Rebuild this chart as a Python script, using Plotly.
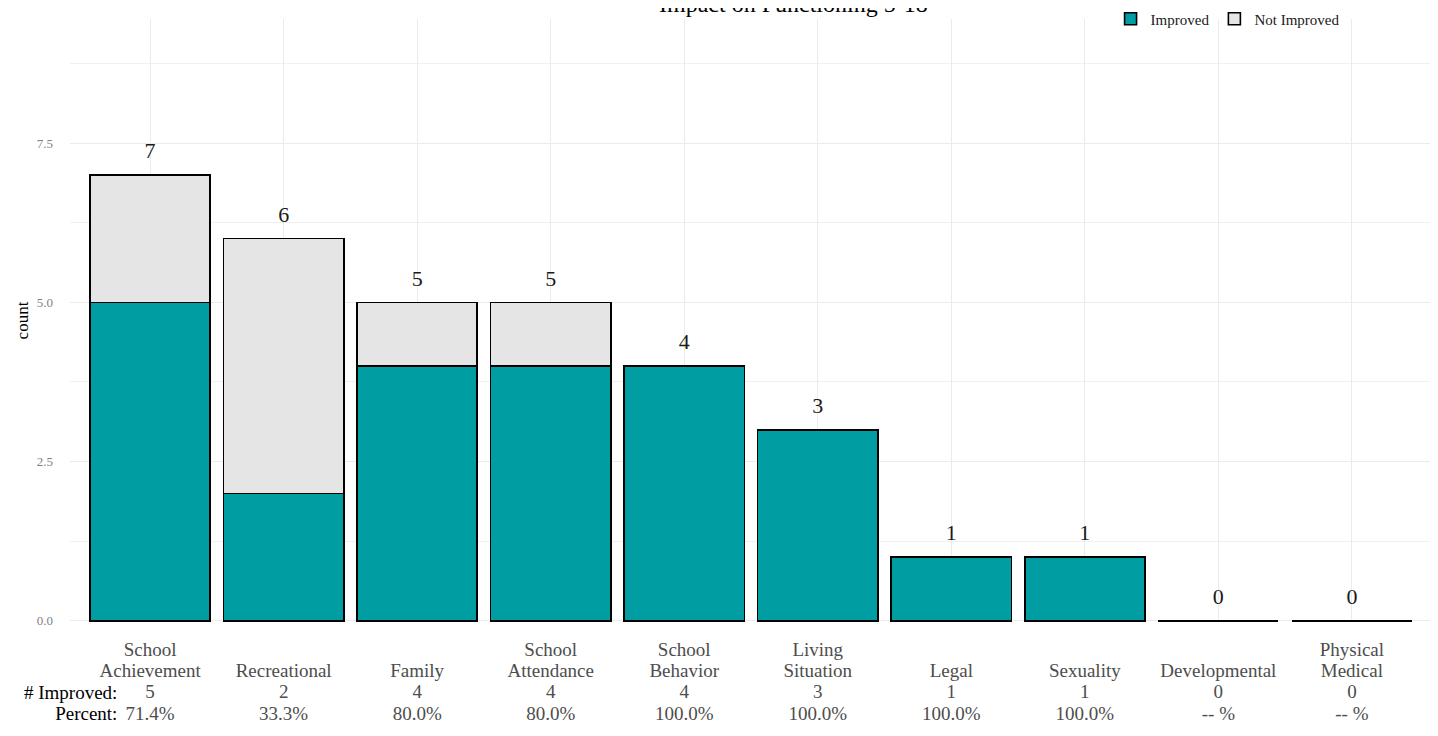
import plotly.graph_objects as go

categories = ["School Achievement", "Recreational", "Family", "School Attendance",
              "School Behavior", "Living Situation", "Legal", "Sexuality",
              "Developmental", "Physical Medical"]
name_line1 = ["School", "", "", "School", "School", "Living", "", "", "", "Physical"]
name_line2 = ["Achievement", "Recreational", "Family", "Attendance", "Behavior",
              "Situation", "Legal", "Sexuality", "Developmental", "Medical"]
improved = [5, 2, 4, 4, 4, 3, 1, 1, 0, 0]
not_improved = [2, 4, 1, 1, 0, 0, 0, 0, 0, 0]
totals = [a + b for a, b in zip(improved, not_improved)]
percent_labels = ["71.4%", "33.3%", "80.0%", "80.0%", "100.0%", "100.0%",
                  "100.0%", "100.0%", "-- %", "-- %"]
row_headers = ["# Improved:", "Percent:"]
label_offset = 0.35

FONT = "Liberation Serif"
TEAL = "#009DA3"
GREY = "#E5E5E5"
LABEL_GREY = "#4D4D4D"
BASE_SIZE = 16.5   # sets the line spacing (1.3 x)
GLYPH_SIZE = 19    # visible glyph size


def big(s):
    return f"<span style='font-size:{GLYPH_SIZE}px'>{s}</span>" if s else "\u00a0"


ticktext = []
for l1, l2, n, p in zip(name_line1, name_line2, improved, percent_labels):
    ticktext.append("<br>".join([big(l1), big(l2), big(str(n)), big(p)]))

fig = go.Figure()
fig.add_trace(go.Bar(x=categories, y=improved, name="Improved",
                     marker=dict(color=TEAL, line=dict(color="black", width=1.6)),
                     width=0.9))
fig.add_trace(go.Bar(x=categories, y=not_improved, name="Not Improved",
                     marker=dict(color=GREY, line=dict(color="black", width=1.6)),
                     width=0.9))
fig.add_trace(go.Scatter(x=categories, y=[t + label_offset for t in totals],
                         mode="text", text=[str(t) for t in totals],
                         textfont=dict(family=FONT, size=22, color="#1A1A1A"),
                         showlegend=False, hoverinfo="skip"))

fig.update_layout(
    barmode="stack",
    width=1438, height=736,
    margin=dict(l=62, r=14, t=11, b=122, autoexpand=False),
    plot_bgcolor="white", paper_bgcolor="white",
    font=dict(family=FONT),
    showlegend=True,
    legend=dict(orientation="h", x=0.764, xanchor="left", y=1.0, yanchor="middle",
                font=dict(family=FONT, size=15, color="#1A1A1A"),
                bgcolor="rgba(0,0,0,0)", traceorder="normal"),
    xaxis=dict(categoryorder="array", categoryarray=categories,
               tickmode="array", tickvals=categories, ticktext=ticktext,
               tickfont=dict(family=FONT, size=BASE_SIZE, color=LABEL_GREY),
               ticklabelstandoff=16,
               showgrid=True, gridcolor="#EBEBEB", gridwidth=1,
               range=[-0.6, 9.6], zeroline=False, showline=False, ticks=""),
    yaxis=dict(range=[-0.02, 9.45], tickvals=[0, 2.5, 5, 7.5],
               ticktext=["0.0", "2.5", "5.0", "7.5"],
               tickfont=dict(family=FONT, size=13, color="#7F7F7F"),
               ticklabelstandoff=16,
               showgrid=True, gridcolor="#EBEBEB", gridwidth=1.2,
               minor=dict(tickvals=[1.25, 3.75, 6.25, 8.75], showgrid=True,
                          gridcolor="#F0F0F0", gridwidth=1),
               zeroline=False, showline=False, ticks="",
               title=dict(text="count", font=dict(family=FONT, size=17, color="black"),
                          standoff=3)),
)

fig.add_annotation(text="Impact on Functioning 5-18", xref="paper", yref="paper",
                   x=0.531, y=1, yanchor="middle", yshift=15, showarrow=False,
                   font=dict(family=FONT, size=24, color="black"))
fig.add_annotation(text="<br>".join(big(h) for h in row_headers),
                   xref="paper", yref="paper", x=0, y=0, align="right",
                   xanchor="right", yanchor="middle", xshift=49, yshift=-81,
                   showarrow=False, font=dict(family=FONT, size=BASE_SIZE, color="black"))

fig.write_html("out.html")
